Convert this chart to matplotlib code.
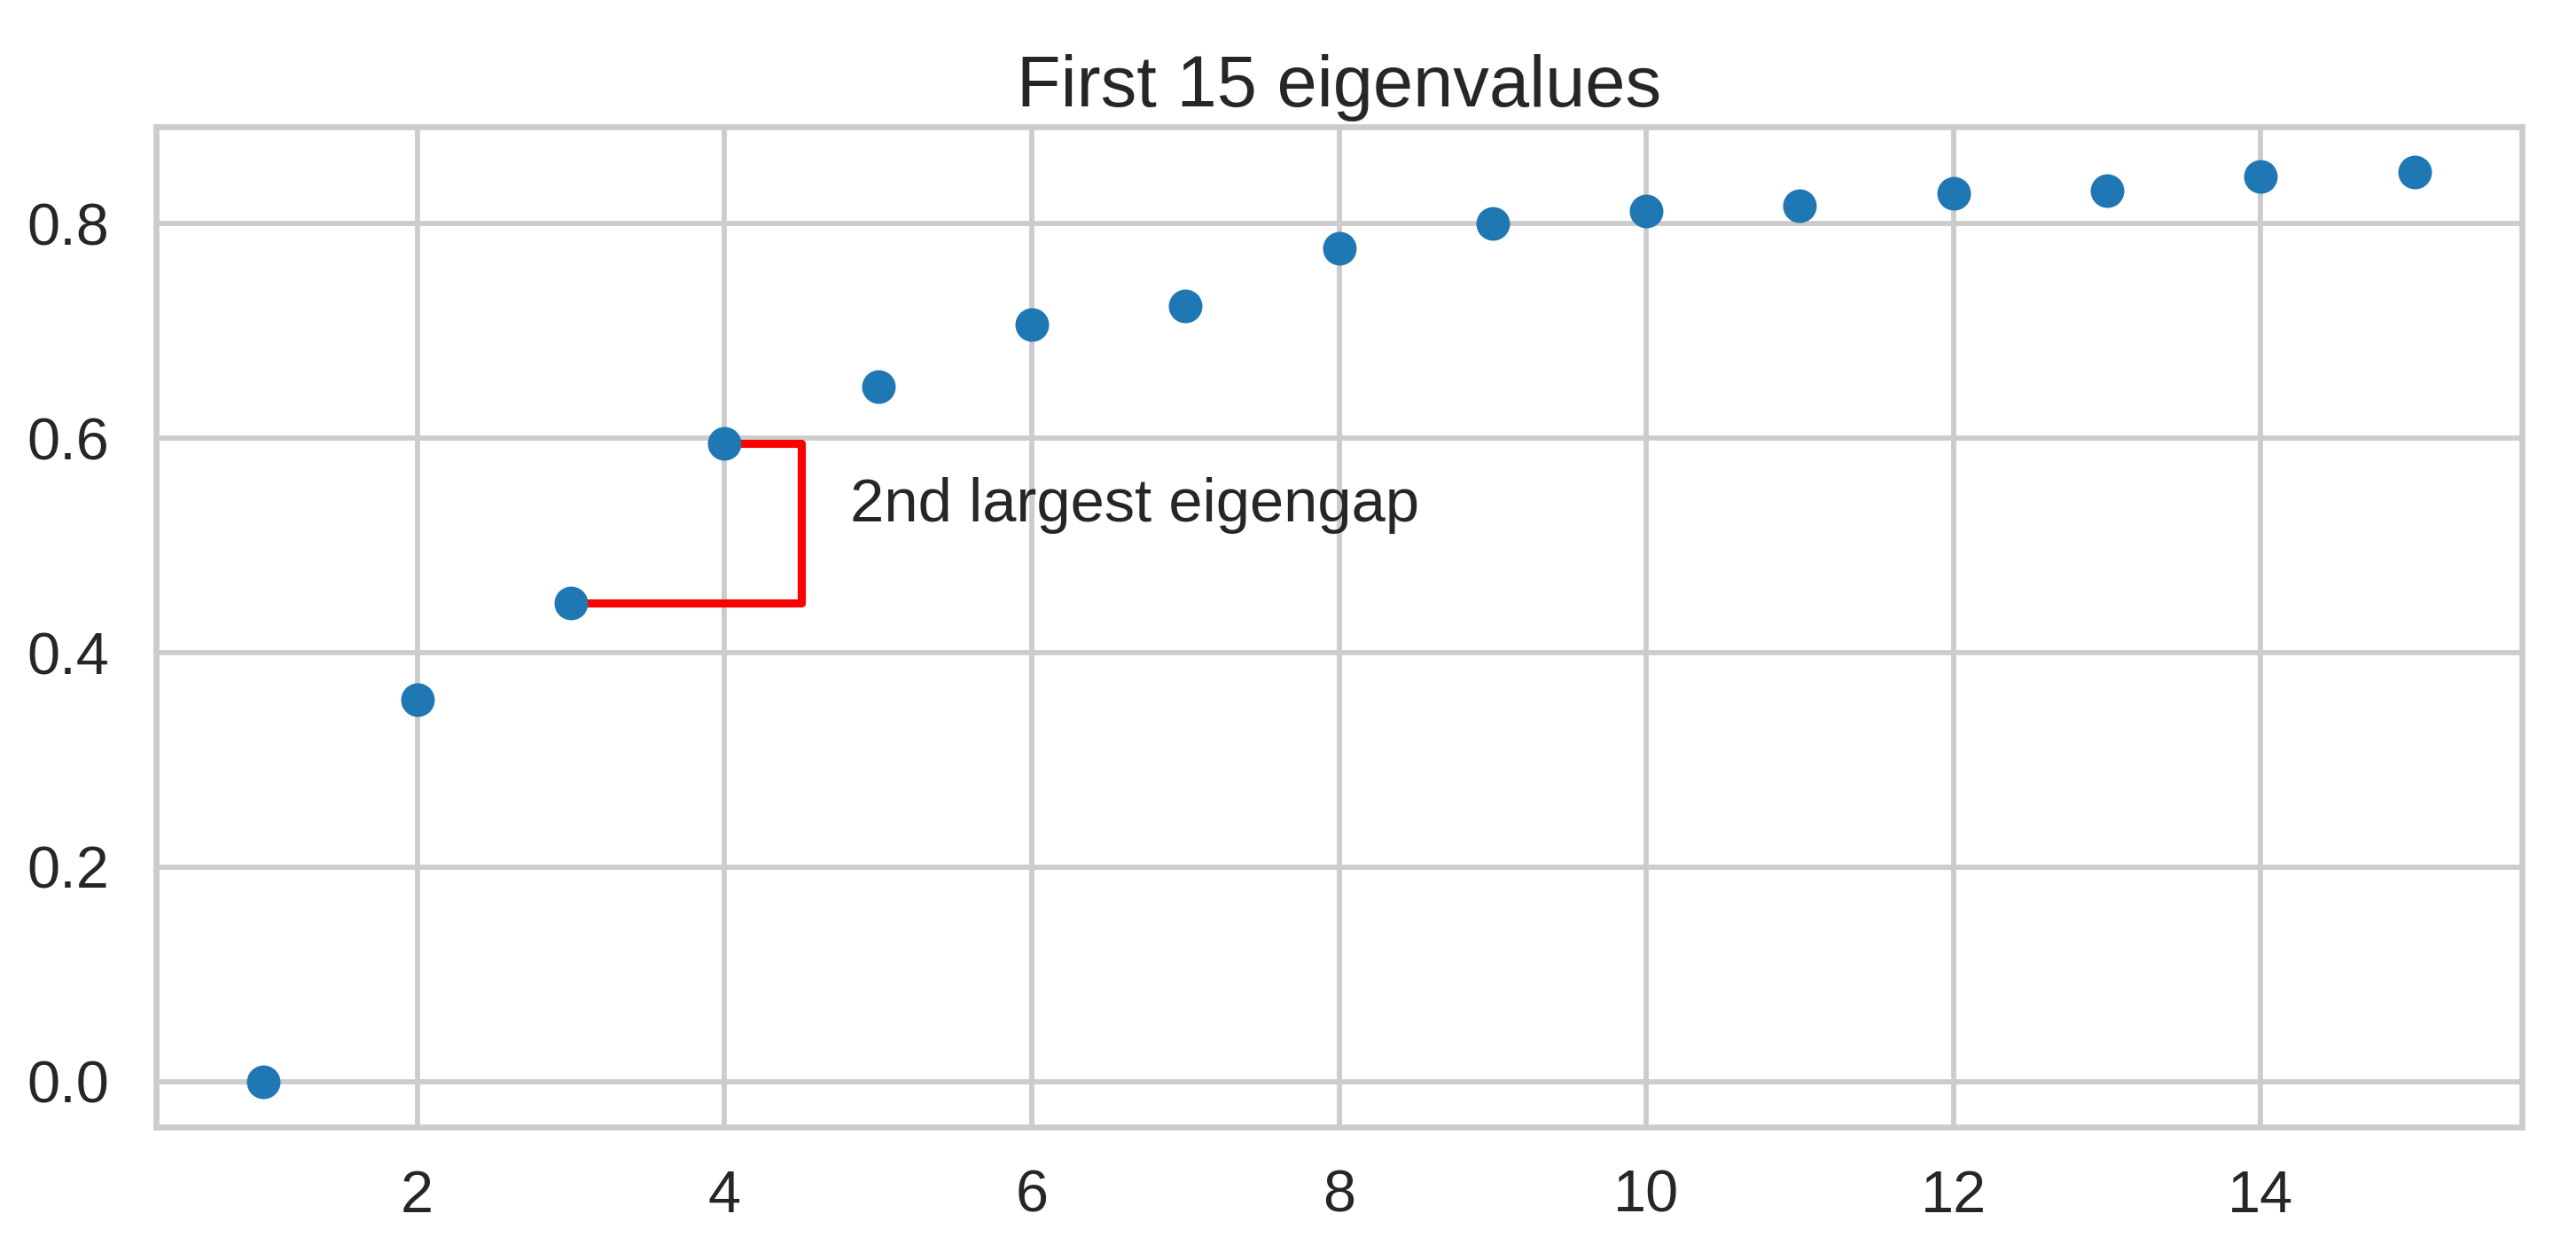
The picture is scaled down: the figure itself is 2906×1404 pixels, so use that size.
import matplotlib
matplotlib.use("Agg")
import matplotlib.pyplot as plt
import seaborn as sns

sns.set_theme(style="whitegrid")
plt.rcParams['font.family'] = ['Liberation Sans', 'DejaVu Sans']

k = list(range(1, 16))
eigenvalues = [0.0, 0.356, 0.446, 0.595, 0.648, 0.706, 0.723, 0.777,
               0.800, 0.812, 0.817, 0.828, 0.831, 0.844, 0.848]
gap_lo_idx = 2
gap_hi_idx = 3
gap_label = "2nd largest eigengap"
title = "First 15 eigenvalues"

fig = plt.figure(figsize=(2906/300, 1404/300), dpi=300)
ax = fig.add_axes([176/2906, 1 - 1271/1404, (2845-176)/2906, (1271-143)/1404])

ax.scatter(k, eigenvalues, s=83, color="#1f77b4", zorder=3, linewidths=0)

x_lo, x_hi = k[gap_lo_idx], k[gap_hi_idx]
y_lo, y_hi = eigenvalues[gap_lo_idx], eigenvalues[gap_hi_idx]
xm = x_hi + 0.5
ax.plot([x_lo, xm, xm, x_hi], [y_lo, y_lo, y_hi, y_hi], color="red", lw=2.2, zorder=2)
ax.text(xm + 0.32, 0.522, gap_label, fontsize=16.5, va="baseline",
        color="#262626")

ax.set_title(title, fontsize=19.5, pad=5.5, color="#262626")
ax.tick_params(axis="y", labelsize=16, colors="#262626", pad=6.7)
ax.tick_params(axis="x", labelsize=16, colors="#262626", pad=5.5)
for s in ax.spines.values():
    s.set_color("#cccccc")
    s.set_linewidth(1.6)
ax.grid(True, color="#cccccc", linewidth=1.4)

fig.savefig("out.png", dpi=300)
